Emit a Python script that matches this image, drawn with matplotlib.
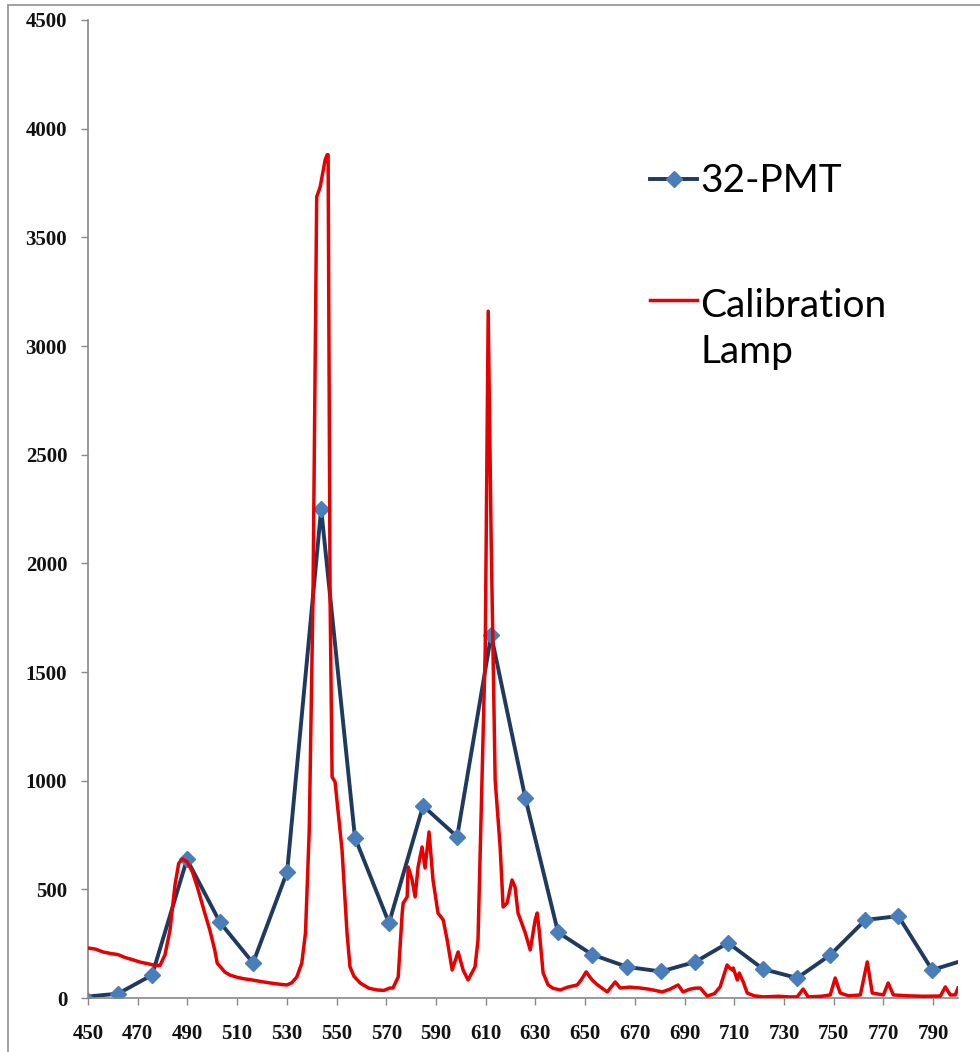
import matplotlib
matplotlib.use("Agg")
import matplotlib.pyplot as plt
from matplotlib.lines import Line2D
from matplotlib.patches import Rectangle

# 32-PMT channel readings (wavelength nm, counts)
pmt_wl = [448.4, 462.1, 475.8, 489.8, 503.1, 516.4, 530.1, 543.8, 557.4, 571.1,
          584.8, 598.5, 612.2, 625.9, 639.1, 652.8, 666.9, 680.5, 694.3, 707.5,
          721.6, 735.3, 748.6, 762.7, 776.0, 789.6, 803.5]
pmt_val = [5, 20, 106, 638, 348, 161, 580, 2250, 738, 345,
           884, 742, 1670, 922, 302, 200, 143, 122, 166, 254,
           133, 92, 198, 359, 377, 129, 178]

# calibration lamp spectrum (traced)
lamp_wl = [450, 453, 456, 459, 462, 465, 468, 471, 474, 477, 479, 481, 483, 485,
           486.5, 488, 490, 492, 494, 497, 499, 501, 502, 505, 507, 510, 513, 516,
           520, 524, 528, 530, 532, 534, 536, 537.5, 539, 540.5, 542, 543.4, 545.4,
           546.2, 546.6, 547.4, 548.2, 549.4, 552.2, 554.2, 555.4, 557, 559.5, 563,
           566.3, 569, 571.5, 572.7, 574.8, 576.4, 576.8, 578.4, 578.8, 580.4, 581.6,
           582.8, 584.4, 585.6, 587.2, 588.8, 590.8, 592.9, 594.5, 596.5, 598.9,
           600.9, 602.9, 605.7, 606.9, 608.5, 609.8, 611.0, 612.2, 613.8, 615.8,
           617.0, 618.6, 620.6, 621.8, 623.0, 625.9, 627.9, 629.9, 630.7, 631.5,
           633.1, 635.1, 637, 640, 643, 646.8, 648.5, 650.4, 652.8, 655, 658.9,
           662.1, 664.1, 668, 672.1, 676, 681, 684, 687.4, 689.4, 692, 694, 696.3,
           699.1, 702, 704.3, 707.1, 708, 709.2, 709.6, 711.2, 712, 713.6, 715.2,
           718, 721.6, 728, 732, 735.3, 737.7, 739.7, 745, 748.6, 750.6, 752.6, 756,
           760.7, 763.5, 765.5, 770, 771.9, 774, 780, 786, 792.9, 794.9, 796.9,
           798.9, 800]
lamp_val = [230, 225, 212, 205, 200, 186, 176, 165, 158, 150, 150, 200, 313, 520,
            620, 640, 625, 580, 510, 390, 313, 220, 160, 120, 106, 95, 88, 83,
            75, 68, 62, 60, 70, 97, 160, 300, 770, 1830, 3686, 3732, 3856,
            3880, 3880, 1830, 1017, 994, 681, 300, 143, 100, 69, 45,
            37, 35, 46, 46, 97, 391, 437, 465, 603, 543, 465,
            603, 695, 598, 764, 543, 391, 359, 267, 129, 212,
            129, 83, 143, 267, 1003, 1600, 3160, 2100, 1003, 695,
            419, 437, 543, 511, 391, 300, 221, 359, 391, 313,
            115, 60, 45, 37, 50, 60, 85, 120, 83, 60, 28,
            74, 46, 50, 46, 40, 28, 40, 60, 28, 40, 45, 46,
            9, 20, 51, 152, 140, 129, 138, 83, 115, 74, 23,
            10, 5, 8, 5, 5, 41, 5, 8, 14, 92, 23, 10,
            14, 166, 23, 14, 69, 14, 10, 8, 9, 51, 14,
            14, 46]

x_ticks = list(range(450, 800, 20))
y_ticks = list(range(0, 4501, 500))

W, H = 980, 1052
fig = plt.figure(figsize=(W / 100, H / 100), dpi=100)
ax = fig.add_axes([88 / W, 1 - 998 / H, 870 / W, 978 / H])

ax.plot(pmt_wl, pmt_val, color="#1f3a60", lw=2.8, marker="D", ms=8.5,
        mfc="#4a7ebb", mec="#4a7ebb", zorder=2)
ax.plot(lamp_wl, lamp_val, color="#e60000", lw=2.5, zorder=3)

ax.set_xlim(450, 800)
ax.set_ylim(0, 4500)
ax.set_xticks(x_ticks)
ax.set_yticks(y_ticks)

grey = "#888888"
for s in ["top", "right"]:
    ax.spines[s].set_visible(False)
for s in ["left", "bottom"]:
    ax.spines[s].set_color(grey)
    ax.spines[s].set_linewidth(1.2)

tick_font = dict(family="Liberation Serif", size=15, weight="bold")
ax.tick_params(axis="both", direction="out", length=5, width=1, color=grey)
ax.tick_params(axis="x", pad=14)
ax.tick_params(axis="y", pad=10)
for lab in ax.get_xticklabels() + ax.get_yticklabels():
    lab.set_fontproperties(tick_font)
    lab.set_color("#111111")

# chart frame (left/top edges visible)
fig.patches.append(Rectangle((8 / W, -0.02), 1.1, 1 - 5 / H + 0.02,
                             transform=fig.transFigure, fill=False,
                             edgecolor="#999999", lw=1.3))

# legend drawn by hand to match the two-line label layout
def px(x, y):
    return x / W, 1 - y / H

x0, y0 = px(650, 179)
x1, _ = px(697, 179)
fig.add_artist(Line2D([x0, x1], [y0, y0], color="#1f3a60", lw=2.8,
                      transform=fig.transFigure))
fig.add_artist(Line2D([(x0 + x1) / 2], [y0], marker="D", ms=8.5, color="#4a7ebb",
                      transform=fig.transFigure))
x0, y1 = px(650, 300)
fig.add_artist(Line2D([x0, x1], [y1, y1], color="#e60000", lw=2.5,
                      transform=fig.transFigure))

leg_font = dict(family="Lato", size=28, color="black")
fig.text(*px(700, 192), "32-PMT", va="baseline", ha="left", **leg_font)
fig.text(*px(700, 317), "Calibration", va="baseline", ha="left", **leg_font)
fig.text(*px(700, 363), "Lamp", va="baseline", ha="left", **leg_font)

fig.savefig("out.png", dpi=100)
